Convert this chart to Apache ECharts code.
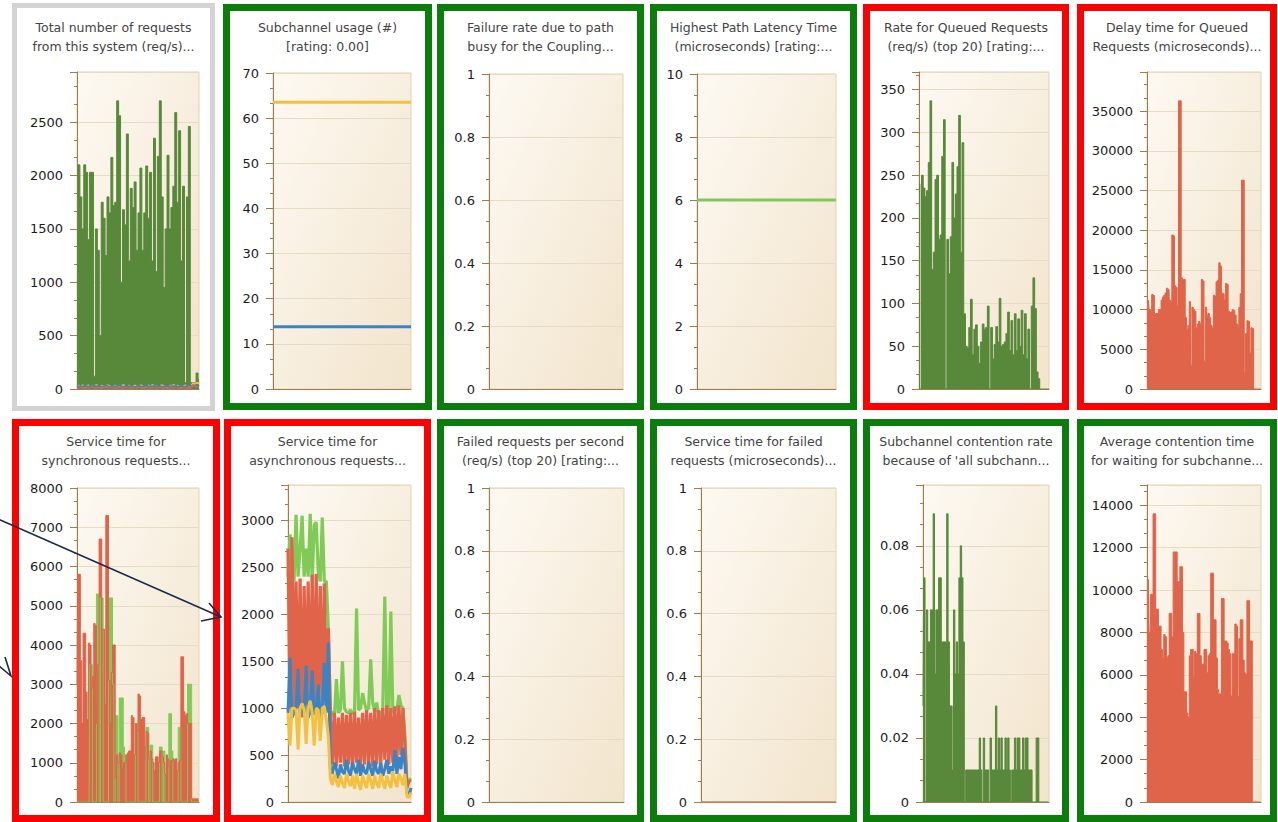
<!DOCTYPE html>
<html>
<head>
<meta charset="utf-8">
<title>Coupling facility dashboard</title>
<script src="https://cdn.jsdelivr.net/npm/echarts@6/dist/echarts.min.js"></script>
<style>
  html, body { margin: 0; padding: 0; background: #ffffff; }
  #dash { width: 1278px; height: 822px; }
</style>
</head>
<body>
<div id="dash"></div>
<script>
// ---------- series values ----------
const totalRequests = [1450, 2100, 1800, 1500, 2100, 2030, 1400, 2030, 2030, 120, 1500, 1300, 500, 1750, 1600, 1250,
  1800, 1650, 2170, 1720, 1750, 2700, 2560, 1000, 1680, 1540, 2390, 1200, 1880, 1700, 1940, 1300,
  1650, 2070, 1300, 1650, 2090, 1600, 2030, 1200, 2350, 1100, 2180, 2700, 1800, 950, 1500, 2190,
  1500, 1700, 1900, 2590, 1750, 2420, 1200, 1900, 60, 1800, 2460, 60, 60, 60, 150, 90];
const totalBlue = [30, 22, 28, 18, 32, 25, 20, 30, 24, 28, 22, 30, 26, 18, 28, 32, 24, 20, 30, 26, 22, 28, 34, 24, 20, 26, 30, 22, 28, 24, 18, 26,
  30, 24, 22, 28, 32, 20, 26, 24, 28, 22, 30, 26, 20, 24, 28, 30, 22, 26, 24, 28, 20, 26, 30, 24, 22, 28, 34, 26, 30, 24, 36, 28];
const totalRed = [12, 8, 15, 10, 6, 14, 9, 12, 16, 8, 10, 14, 7, 12, 10, 15, 9, 11, 13, 8, 12, 10, 16, 9, 7, 12, 14, 10, 8, 13, 11, 9,
  15, 12, 8, 10, 14, 9, 12, 7, 13, 10, 11, 15, 8, 12, 10, 9, 14, 11, 8, 13, 10, 12, 9, 15, 11, 8, 12, 10, 40, 30, 20, 15];
const totalYellow = [26, 30, 24, 34, 22, 28, 32, 24, 30, 22, 36, 26, 24, 30, 22, 28, 34, 26, 22, 30, 28, 24, 30, 26, 36, 22, 28, 30, 24, 26, 32, 22,
  26, 34, 24, 22, 28, 30, 24, 36, 26, 28, 22, 30, 34, 26, 24, 22, 30, 28, 36, 24, 30, 26, 22, 28, 32, 26, 24, 30, 55, 50, 58, 52];

const subchannelYellow = [63.5, 63.5, 63.5, 63.5, 63.5, 63.5, 63.5, 63.5, 63.5, 63.5, 63.5, 63.5];
const subchannelBlue = [13.8, 13.8, 13.8, 13.8, 13.8, 13.8, 13.8, 13.8, 13.8, 13.8, 13.8, 13.8];

const pathLatency = [6, 6, 6, 6, 6, 6, 6, 6, 6, 6, 6, 6];

const queuedRate = [240, 0, 250, 235, 225, 232, 265, 337, 140, 160, 245, 250, 175, 180, 272, 315, 0, 175, 135, 178,
  265, 200, 228, 260, 320, 160, 288, 88, 50, 48, 72, 105, 40, 70, 75, 50, 30, 55, 76, 70,
  72, 97, 0, 72, 35, 52, 73, 55, 106, 50, 52, 55, 65, 90, 45, 80, 40, 88, 45, 82,
  50, 92, 40, 88, 35, 70, 0, 97, 130, 94, 20, 12, 0, 0, 0, 0, 0, 0];

const queuedDelay = [11200, 11200, 10000, 9800, 11900, 11800, 9500, 9500, 9500, 10000,
  10000, 11200, 11600, 11800, 12100, 12700, 12500, 11200, 11000, 19400,
  19300, 13000, 12800, 10500, 36300, 36300, 14000, 13800, 13800, 9000,
  7500, 8000, 11000, 3000, 10300, 10000, 9800, 7700, 8200, 8500,
  8200, 13800, 13600, 3500, 10300, 9300, 9500, 9000, 8000, 7700,
  11800, 11700, 13500, 13700, 15900, 15500, 12100, 12000, 11200, 13300,
  13200, 9800, 9600, 9700, 10000, 9900, 9300, 8200, 8000, 10300,
  12000, 26300, 26300, 2000, 7000, 8600, 8500, 4500, 7700, 7600,
  0, 0, 0, 0, 0, 0];

const syncRed = [3000, 5800, 5800, 3600, 2000, 4300, 4300, 2800, 2100, 4050,
  4000, 2900, 3200, 4550, 4500, 2000, 3500, 6700, 6700, 4400,
  4400, 2500, 7300, 7300, 3100, 2000, 3300, 4000, 4000, 600,
  1200, 1000, 1250, 1200, 850, 1000, 1000, 1200, 1250, 1300,
  1300, 2200, 2150, 1200, 2000, 1800, 2750, 2700, 2100, 2150,
  2150, 1400, 1800, 1750, 1100, 1300, 1100, 1000, 800, 1150,
  1150, 1000, 1300, 1300, 1150, 1000, 700, 1200, 1100, 900,
  1050, 1050, 1100, 1050, 1100, 800, 1000, 1050, 3700, 3700,
  2300, 2200, 2250, 2000, 2000, 2000, 80, 80, 80, 80, 80, 80];
const syncGreen = [0, 0, 0, 0, 0, 0, 0, 0, 0, 0,
  3500, 3500, 0, 0, 0, 5300, 5300, 0, 5200, 5200,
  0, 0, 0, 0, 5200, 5200, 5200, 3000, 0, 2200,
  2200, 0, 2650, 2650, 2650, 1400, 1200, 0, 0, 0,
  0, 0, 0, 0, 2000, 2000, 0, 0, 0, 0,
  0, 0, 1900, 1900, 0, 1450, 1450, 0, 0, 0,
  0, 0, 1400, 1400, 0, 1300, 0, 0, 0, 2250,
  2250, 1300, 0, 0, 0, 0, 1900, 1900, 0, 0,
  0, 0, 0, 3000, 3000, 3000, 0, 0, 0, 0, 0, 0];

const asyncGreen = [2400, 2850, 2500, 2350, 3060, 2400, 2700, 3050, 2400, 2700,
  2400, 3070, 2350, 2950, 2980, 2450, 2350, 3030, 2350, 2350,
  1850, 950, 960, 900, 1310, 950, 980, 1500, 1000, 960,
  950, 980, 940, 960, 2060, 980, 1000, 1160, 1050, 980,
  1000, 1520, 1060, 960, 1060, 900, 950, 970, 2190, 960,
  900, 2030, 950, 1000, 980, 1140, 1030, 1000, 700, 200, 230, 250];
const asyncRed = [2700, 1000, 2820, 950, 2350, 1000, 2380, 900, 2300, 1050,
  2350, 950, 2420, 1000, 2430, 900, 2300, 980, 2330, 1000,
  1850, 950, 400, 950, 380, 900, 420, 950, 380, 930,
  400, 950, 350, 960, 420, 900, 380, 950, 400, 980,
  420, 950, 380, 1000, 400, 980, 420, 1000, 450, 1030,
  400, 1000, 420, 1020, 450, 1030, 500, 1000, 600, 150, 220, 230];
const asyncBlue = [950, 1540, 900, 950, 1000, 1420, 920, 980, 950, 1450,
  900, 960, 1400, 930, 980, 1250, 900, 950, 1480, 950,
  1700, 350, 300, 420, 350, 250, 400, 320, 300, 450,
  330, 280, 420, 350, 300, 450, 280, 400, 320, 300,
  430, 350, 280, 440, 330, 300, 420, 280, 350, 450,
  300, 380, 330, 550, 300, 480, 350, 580, 400, 100, 60, 150];
const asyncYellow = [950, 600, 1000, 1000, 980, 560, 1000, 1050, 980, 620,
  1000, 1080, 950, 600, 1000, 980, 650, 1000, 1020, 880,
  700, 250, 180, 300, 220, 160, 280, 200, 150, 300,
  220, 170, 280, 140, 300, 200, 130, 280, 210, 150,
  300, 230, 140, 280, 200, 150, 300, 220, 140, 280,
  200, 150, 320, 220, 160, 300, 250, 180, 300, 60, 50, 100];

const failedServiceTime = [0, 0, 0, 0, 0, 0, 0, 0, 0, 0, 0, 0];

const contentionRate = [0.03, 0.07, 0, 0.06, 0.05, 0.05, 0.06, 0.06, 0.09, 0.04,
  0.06, 0.06, 0.07, 0.07, 0.05, 0.05, 0.05, 0.05, 0.09, 0.05,
  0.03, 0.03, 0.01, 0.06, 0.04, 0.05, 0.04, 0.07, 0.08, 0.07,
  0.05, 0, 0.01, 0.01, 0.01, 0.01, 0.01, 0.01, 0.01, 0.01,
  0.01, 0.01, 0.02, 0.01, 0, 0.02, 0.01, 0.01, 0.01, 0,
  0.02, 0.01, 0.01, 0.01, 0.03, 0.01, 0.02, 0.01, 0.02, 0.01,
  0.01, 0.02, 0.01, 0.02, 0.01, 0, 0.01, 0.01, 0.02, 0.01,
  0.02, 0.02, 0.01, 0.01, 0.02, 0.01, 0.02, 0.02, 0.01, 0.01,
  0.01, 0, 0, 0, 0.02, 0.02, 0, 0, 0, 0, 0, 0, 0, 0];

const contentionWait = [10500, 10500, 8000, 9800, 9800, 13600, 13600, 9100, 9100, 8300,
  8300, 7200, 6800, 7900, 7800, 6800, 6900, 8900, 8900, 7800,
  11800, 11800, 11800, 10400, 10400, 11100, 11100, 8000, 5200, 5200,
  4200, 4000, 6900, 7200, 7200, 5900, 7100, 7000, 8900, 8900,
  6900, 6500, 6500, 7200, 7200, 6100, 6900, 7000, 10800, 10800,
  8600, 8600, 6800, 5300, 5100, 5100, 9600, 9600, 7600, 7600,
  7500, 7200, 7000, 5000, 7000, 7000, 8400, 8300, 5000, 7700,
  8600, 8600, 6700, 6100, 6000, 9500, 9500, 7600, 7600, 0,
  0, 0, 0, 0, 0, 0];

// ---------- titles and value-axis ranges ----------
const panelTitles = [
  ['Total number of requests', 'from this system (req/s)...'],
  ['Subchannel usage (#)', '[rating: 0.00]'],
  ['Failure rate due to path', 'busy for the Coupling...'],
  ['Highest Path Latency Time', '(microseconds) [rating:...'],
  ['Rate for Queued Requests', '(req/s) (top 20) [rating:...'],
  ['Delay time for Queued', 'Requests (microseconds)...'],
  ['Service time for', 'synchronous requests...'],
  ['Service time for', 'asynchronous requests...'],
  ['Failed requests per second', '(req/s) (top 20) [rating:...'],
  ['Service time for failed', 'requests (microseconds)...'],
  ['Subchannel contention rate', "because of 'all subchann..."],
  ['Average contention time', 'for waiting for subchanne...']
];
const axisMax = [2970, 70, 1, 10, 370.7, 39930, 8000, 3377, 1, 1, 0.099, 14960];
const axisStep = [500, 10, 0.2, 2, 50, 5000, 1000, 500, 0.2, 0.2, 0.02, 2000];

// ---------- palette ----------
const C = {
  darkGreen: '#58883a', lightGreen: '#7fcb55', red: '#df644a',
  blue: '#3b84c4', yellow: '#f3c03f', zeroLine: '#d0846a',
  frameGreen: '#0a7d0a', frameRed: '#ff0000', frameGray: '#d3d3d3',
  axis: '#9c7d4b', split: '#e7dbc3', plotEdge: '#e3d3b1',
  title: '#444444', label: '#1c1c1c', arrow: '#1b2b47'
};
const FONT = '"DejaVu Sans", Verdana, sans-serif';

// ---------- panel layout: frame [x, y, w, h], plot [left, top, w, h] ----------
const layout = [
  { frame: [12, 3, 203, 408], stroke: C.frameGray, lw: 5, plot: [77, 72, 122, 317] },
  { frame: [223, 4, 209, 406], stroke: C.frameGreen, lw: 7, plot: [273, 73, 138, 316] },
  { frame: [437, 4, 207, 406], stroke: C.frameGreen, lw: 7, plot: [489, 74, 134, 315] },
  { frame: [650, 4, 207, 406], stroke: C.frameGreen, lw: 7, plot: [697, 74, 139, 315] },
  { frame: [863, 4, 206, 406], stroke: C.frameRed, lw: 7, plot: [919, 72, 130, 317] },
  { frame: [1077, 4, 200, 406], stroke: C.frameRed, lw: 7, plot: [1147, 72, 114, 317] },
  { frame: [12, 419, 208, 403], stroke: C.frameRed, lw: 7, plot: [77, 488, 122, 314] },
  { frame: [224, 419, 207, 403], stroke: C.frameRed, lw: 7, plot: [288, 485, 123, 317] },
  { frame: [437, 419, 207, 403], stroke: C.frameGreen, lw: 7, plot: [489, 488, 135, 314] },
  { frame: [650, 419, 207, 403], stroke: C.frameGreen, lw: 7, plot: [701, 488, 135, 314] },
  { frame: [863, 419, 206, 403], stroke: C.frameGreen, lw: 7, plot: [923, 485, 126, 317] },
  { frame: [1077, 419, 200, 403], stroke: C.frameGreen, lw: 7, plot: [1147, 485, 114, 317] }
];

// sampled columns: a stepped, filled line gives touching columns without seams
function columns(data, color) {
  return { type: 'line', step: 'middle', data, symbol: 'none', showSymbol: false,
    lineStyle: { color, width: 1 }, areaStyle: { color, opacity: 1 },
    itemStyle: { color }, emphasis: { disabled: true } };
}
function line(data, color, width) {
  return { type: 'line', data, symbol: 'none', showSymbol: false,
    lineStyle: { color, width }, itemStyle: { color }, emphasis: { disabled: true } };
}

const panelSeries = [
  [columns(totalRequests, C.darkGreen), line(totalYellow, C.yellow, 2), line(totalBlue, C.blue, 2), line(totalRed, C.red, 1.5)],
  [line(subchannelYellow, C.yellow, 3), line(subchannelBlue, C.blue, 3)],
  [],
  [line(pathLatency, '#83c65b', 3)],
  [columns(queuedRate, C.darkGreen)],
  [columns(queuedDelay, C.red)],
  [columns(syncGreen, C.lightGreen), columns(syncRed, C.red)],
  [line(asyncGreen, C.lightGreen, 3.2), line(asyncRed, C.red, 3.2), line(asyncBlue, C.blue, 3), line(asyncYellow, C.yellow, 3)],
  [],
  [line(failedServiceTime, C.zeroLine, 1.5)],
  [columns(contentionRate, C.darkGreen)],
  [columns(contentionWait, C.red)]
];

const plotFill = {
  type: 'linear', x: 0, y: 0, x2: 1, y2: 1,
  colorStops: [{ offset: 0, color: '#fdf9f2' }, { offset: 1, color: '#f2e4cc' }]
};

const grids = [], xAxes = [], yAxes = [], series = [], graphics = [];

layout.forEach((p, i) => {
  const [gl, gt, gw, gh] = p.plot;
  grids.push({ left: gl, top: gt, width: gw, height: gh, containLabel: false, outerBoundsMode: 'none',
    show: true, backgroundColor: plotFill, borderColor: C.plotEdge, borderWidth: 1 });

  const ps = panelSeries[i];
  const n = Math.max(2, ...ps.map(s => s.data.length));
  xAxes.push({ type: 'category', gridIndex: i, data: Array.from({ length: n }, (_, k) => k),
    boundaryGap: false, axisLine: { show: true, lineStyle: { color: C.axis, width: 1 } },
    axisTick: { show: false }, axisLabel: { show: false }, splitLine: { show: false } });

  const nice = Math.abs(axisMax[i] / axisStep[i] - Math.round(axisMax[i] / axisStep[i])) < 1e-6;
  yAxes.push({ type: 'value', gridIndex: i, min: 0, max: axisMax[i], interval: axisStep[i],
    axisLine: { show: true, lineStyle: { color: C.axis, width: 1 } },
    axisTick: { show: true, inside: false, length: 7, lineStyle: { color: C.axis } },
    minorTick: { show: true, splitNumber: 3, length: 3, lineStyle: { color: C.axis } },
    splitLine: { show: true, lineStyle: { color: C.split, width: 1 } },
    axisLabel: { show: true, margin: 14, color: C.label, fontFamily: FONT, fontSize: 13,
      showMaxLabel: nice, formatter: v => String(+v.toFixed(6)) } });

  ps.forEach(s => series.push(Object.assign({}, s, { xAxisIndex: i, yAxisIndex: i, animation: false, silent: true })));

  const [fx, fy, fw, fh] = p.frame;
  graphics.push({ type: 'rect', z: 50, silent: true,
    shape: { x: fx + p.lw / 2, y: fy + p.lw / 2, width: fw - p.lw, height: fh - p.lw },
    style: { fill: 'none', stroke: p.stroke, lineWidth: p.lw } });
  graphics.push({ type: 'text', z: 50, silent: true, x: fx + fw / 2, y: (i < 6 ? 18 : 432),
    style: { text: panelTitles[i].join('\n'), font: '12.5px ' + FONT, fill: C.title,
      align: 'center', textAlign: 'center', verticalAlign: 'top', textVerticalAlign: 'top', lineHeight: 19 } });
});

// annotation arrows drawn over the dashboard
const arrowStyle = { fill: 'none', stroke: C.arrow, lineWidth: 1.6 };
graphics.push({ type: 'polyline', z: 100, silent: true, shape: { points: [[-4, 518], [221, 617]] }, style: arrowStyle });
graphics.push({ type: 'polyline', z: 100, silent: true, shape: { points: [[209, 603], [221, 617], [201, 621]] }, style: arrowStyle });
graphics.push({ type: 'polyline', z: 100, silent: true, shape: { points: [[5, 657], [11, 676], [-1, 666]] }, style: arrowStyle });

const chart = echarts.init(document.getElementById('dash'), null, { renderer: 'svg', width: 1278, height: 822 });
chart.setOption({
  animation: false,
  backgroundColor: '#ffffff',
  grid: grids,
  xAxis: xAxes,
  yAxis: yAxes,
  series,
  graphic: { elements: graphics }
});
</script>
</body>
</html>
